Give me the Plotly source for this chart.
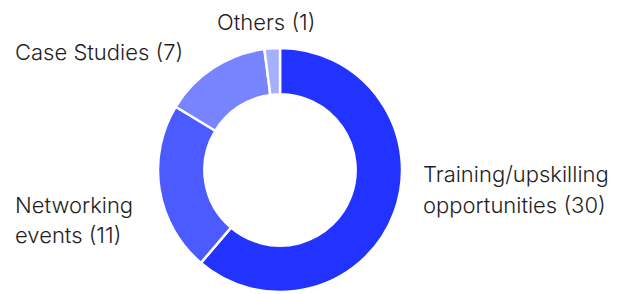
import plotly.graph_objects as go

categories = ["Training/upskilling opportunities", "Networking events", "Case Studies", "Others"]
values = [30, 11, 7, 1]
colors = ["#2233FF", "#4B5BFF", "#7884FF", "#A6AEFF"]
# label line breaks as displayed
label_lines = [["Training/upskilling", "opportunities (30)"],
               ["Networking", "events (11)"],
               ["Case Studies (7)"],
               ["Others (1)"]]
# pixel anchors (left x, centre y of each line)
label_pos = [(421, [174, 205]), (13, [205, 235]), (13, [52]), (215, [22])]

W, H = 627, 294
fig = go.Figure(go.Pie(
    labels=categories, values=values, sort=False, direction="clockwise",
    rotation=0, hole=0.62, textinfo="none", hoverinfo="label+value",
    marker=dict(colors=colors, line=dict(color="white", width=2.5)),
    domain=dict(x=[157 / W, 403 / W], y=[(H - 292) / H, (H - 48) / H]),
    showlegend=False,
))

for lines, (px, pys) in zip(label_lines, label_pos):
    for line, py in zip(lines, pys):
        fig.add_annotation(text=line, x=px / W, y=1 - py / H, xref="paper", yref="paper",
                           xanchor="left", yanchor="middle", showarrow=False,
                           font=dict(family="Inter", size=22, color="#1e1e1e", weight=300))

fig.update_layout(width=W, height=H, margin=dict(l=0, r=0, t=0, b=0),
                  paper_bgcolor="white", plot_bgcolor="white")
fig.write_html("out.html", config={"displayModeBar": False},
               post_script="document.body.style.margin='0';document.body.style.overflow='hidden';")
